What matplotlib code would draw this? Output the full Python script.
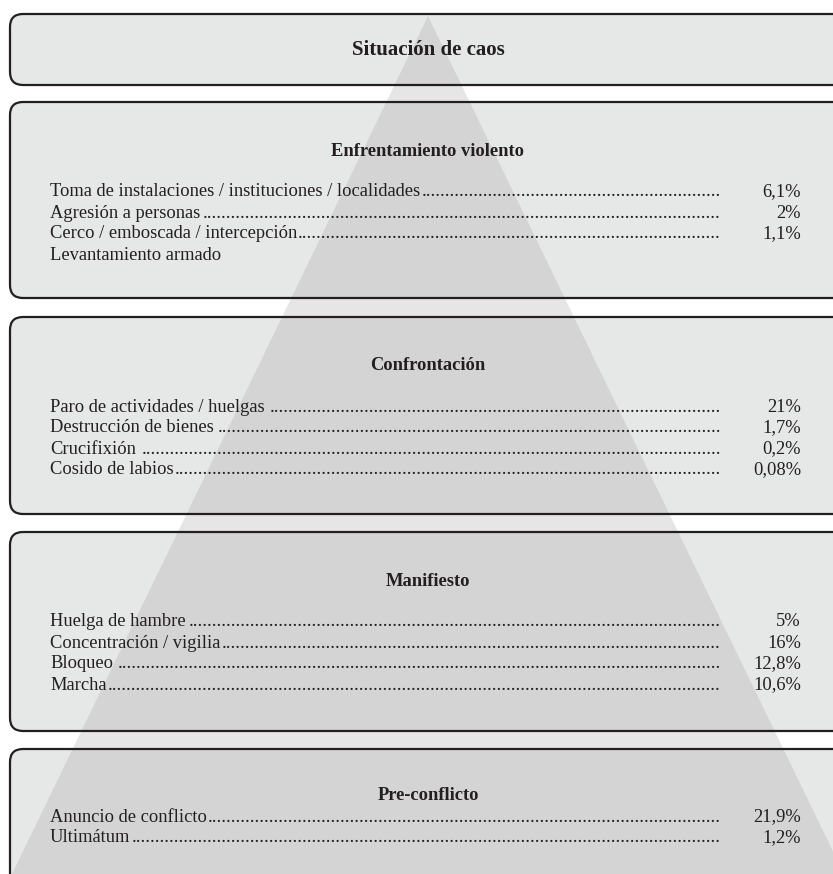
import matplotlib.pyplot as plt
from matplotlib.patches import FancyBboxPatch, Polygon

# levels of the pyramid, from top to bottom
titles = ["Situación de caos", "Enfrentamiento violento", "Confrontación",
          "Manifiesto", "Pre-conflicto"]
items = [
    [],
    ["Toma de instalaciones / instituciones / localidades", "Agresión a personas",
     "Cerco / emboscada / intercepción", "Levantamiento armado"],
    ["Paro de actividades / huelgas", "Destrucción de bienes", "Crucifixión",
     "Cosido de labios"],
    ["Huelga de hambre", "Concentración / vigilia", "Bloqueo", "Marcha"],
    ["Anuncio de conflicto", "Ultimátum"],
]
values = [
    [],
    ["6,1%", "2%", "1,1%", None],
    ["21%", "1,7%", "0,2%", "0,08%"],
    ["5%", "16%", "12,8%", "10,6%"],
    ["21,9%", "1,2%"],
]

# layout in pixels (y grows downward)
box_top = [14, 102, 317, 532, 749]
box_bot = [85, 298, 514, 731, 905]
title_y = [50, 151, 366, 581, 795]
first_y = [None, 192, 407, 622, 817]
row_h = 21
x_left, dots_end, val_right = 50, 721, 801
ink = "#231f20"
serif = "Liberation Serif"
fs = 13.3

fig = plt.figure(figsize=(8.33, 8.74), dpi=100)
ax = fig.add_axes([0, 0, 1, 1])
ax.set_xlim(0, 833)
ax.set_ylim(874, 0)
ax.axis("off")

for t, b in zip(box_top, box_bot):
    ax.add_patch(FancyBboxPatch((10, t), 850, b - t,
                                boxstyle="round,pad=0,rounding_size=13",
                                facecolor="#e6e7e7", edgecolor="none", zorder=1))
    ax.add_patch(FancyBboxPatch((10, t), 850, b - t,
                                boxstyle="round,pad=0,rounding_size=13",
                                facecolor="none", edgecolor=ink, lw=1.6, zorder=3))

# translucent pyramid
ax.add_patch(Polygon([(428, 16), (12, 874), (844, 874)], closed=True,
                     facecolor="#a6a6a6", alpha=0.28, edgecolor="none", zorder=2))

fig.canvas.draw()
renderer = fig.canvas.get_renderer()
inv = ax.transData.inverted()

probe = ax.text(0, 0, "." * 50, fontsize=fs, family=serif)
bb = probe.get_window_extent(renderer)
dot_w = (bb.x1 - bb.x0) / 50
probe.remove()

for i, title in enumerate(titles):
    ax.text(428, title_y[i], title, fontsize=15 if i == 0 else fs,
            fontweight="bold", family=serif, color=ink,
            ha="center", va="center", zorder=4)
    for j, (lab, val) in enumerate(zip(items[i], values[i])):
        y = first_y[i] + j * row_h
        t = ax.text(x_left, y, lab, fontsize=fs, family=serif, color=ink,
                    ha="left", va="center", zorder=4)
        if val is None:
            continue
        ext = t.get_window_extent(renderer)
        end_x = inv.transform((ext.x1, 0))[0]
        n = int((dots_end - end_x - 1) // dot_w)
        ax.text(dots_end, y, "." * n, fontsize=fs, family=serif, color=ink,
                ha="right", va="center", zorder=4)
        ax.text(val_right, y, val, fontsize=fs, family=serif, color=ink,
                ha="right", va="center", zorder=4)

fig.savefig("out.png", dpi=100)
